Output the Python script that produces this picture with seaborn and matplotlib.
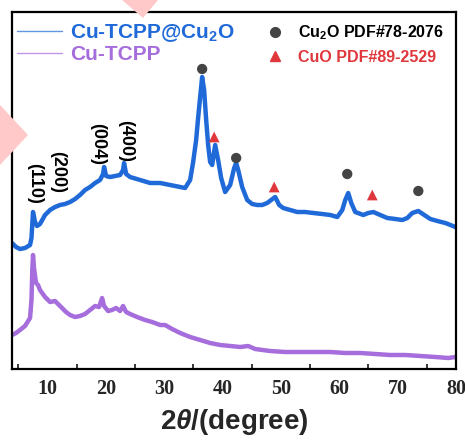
import numpy as np
import pandas as pd
import matplotlib
matplotlib.use("Agg")
import matplotlib.pyplot as plt
from matplotlib.lines import Line2D
from matplotlib.patches import Polygon
import seaborn as sns

# ---------------- data ----------------
two_theta_a = [3.90, 4.59, 5.27, 6.13, 6.99, 7.24, 7.50, 7.85, 8.19, 8.70, 9.56, 10.42, 11.28,
               12.13, 12.99, 13.85, 14.71, 15.56, 16.42, 17.28, 18.14, 18.99, 19.51, 19.68,
               20.03, 20.71, 21.57, 22.42, 22.94, 23.11, 23.46, 24.14, 25.86, 27.57, 29.29,
               31.00, 32.72, 33.57, 34.43, 34.95, 35.46, 35.80, 36.15, 36.49, 36.83, 37.18,
               37.52, 37.86, 38.21, 38.72, 39.23, 39.75, 40.43, 41.29, 41.98, 42.32, 42.67,
               43.35, 44.21, 45.07, 45.92, 46.78, 47.64, 48.32, 49.01, 49.70, 50.38, 51.58,
               52.79, 54.16, 55.53, 57.07, 58.45, 59.65, 60.51, 61.02, 61.53, 62.05, 62.73,
               64.11, 64.96, 65.82, 67.02, 68.22, 69.59, 70.80, 71.65, 72.51, 73.54, 74.57,
               75.60, 76.81, 78.18, 79.90]
intensity_a = [126, 122, 120, 121, 124, 131, 157, 147, 143, 145, 154, 159, 162,
               164, 165, 167, 170, 174, 179, 182, 186, 189, 195, 202,
               193, 192, 193, 194, 199, 206, 195, 192, 189, 186, 186,
               184, 182, 181, 189, 207, 229, 251, 272, 292, 279, 249,
               224, 207, 204, 224, 209, 191, 177, 184, 201, 206, 199,
               182, 169, 165, 164, 164, 166, 169, 172, 164, 161, 159,
               157, 157, 156, 155, 154, 152, 159, 169, 176, 166, 157,
               154, 156, 157, 154, 151, 150, 149, 151, 156, 158, 154,
               150, 148, 146, 142]

two_theta_b = [3.90, 4.59, 5.27, 6.13, 6.99, 7.24, 7.38, 7.50, 7.67, 8.02, 8.36, 8.70, 9.56,
               10.42, 11.28, 11.79, 12.48, 13.16, 13.85, 14.71, 15.56, 16.42, 17.28, 18.14,
               18.82, 19.34, 19.68, 20.37, 21.05, 21.74, 22.42, 22.94, 23.46, 24.14, 25.34,
               26.71, 27.91, 29.29, 30.14, 31.34, 32.72, 34.43, 36.15, 37.86, 39.58, 41.29,
               43.01, 44.38, 45.58, 48.15, 50.73, 53.30, 55.87, 58.45, 61.02, 63.59, 66.16,
               68.74, 71.31, 73.88, 76.46, 78.69, 79.90]
intensity_b = [34, 36, 39, 43, 51, 69, 99, 114, 101, 86, 84, 79, 72,
               67, 68, 65, 61, 57, 54, 52, 53, 55, 59, 63,
               62, 71, 63, 58, 59, 61, 58, 63, 57, 55, 52,
               49, 47, 44, 44, 40, 36, 32, 29, 26, 24, 23,
               22, 23, 20, 18, 17, 17, 17, 17, 16, 16, 15,
               14, 14, 13, 12, 11, 12]

cu2o_pos = [36.49, 42.32, 61.36, 73.54]
cu2o_y = [300, 211, 195, 178]
cuo_pos = [38.55, 48.84, 65.65]
cuo_y = [232, 182, 174]

hkl_labels = ["(110)", "(200)", "(004)", "(400)"]
hkl_x = [7.7, 11.8, 18.5, 23.4]
hkl_y = [186, 197, 225, 228]

series_names = ["Cu-TCPP@Cu$_2$O", "Cu-TCPP"]
phase_names = ["Cu$_2$O PDF#78-2076", "CuO PDF#89-2529"]
x_ticks = [10, 20, 30, 40, 50, 60, 70, 80]

# ---------------- style ----------------
BLUE = "#1f6ad8"
PURPLE = "#a66ddc"
GREY = "#444444"
RED = "#e0373c"

sns.set_style("white")
plt.rcParams["font.family"] = ["Liberation Sans", "DejaVu Sans"]
plt.rcParams["mathtext.fontset"] = "custom"
plt.rcParams["mathtext.rm"] = "Liberation Sans:bold"
plt.rcParams["mathtext.it"] = "Liberation Sans:bold:italic"
plt.rcParams["mathtext.bf"] = "Liberation Sans:bold"

fig = plt.figure(figsize=(4.65, 4.42), dpi=100)
# background watermark fragments
fig.patches.append(Polygon([[122/465, 1], [158/465, 1], [143/465, 1 - 18/442]],
                           closed=True, transform=fig.transFigure, facecolor="#ffc9c9",
                           edgecolor="none", zorder=0))
fig.patches.append(Polygon([[0, 1 - 105/442], [28/465, 1 - 135/442], [0, 1 - 165/442]],
                           closed=True, transform=fig.transFigure, facecolor="#ffc9c9",
                           edgecolor="none", zorder=0))
ax = fig.add_axes([12/465, 1 - 369/442, 444/465, 357/442])
ax.set_facecolor("none")

df_a = pd.DataFrame({"x": two_theta_a, "y": intensity_a})
df_b = pd.DataFrame({"x": two_theta_b, "y": intensity_b})
sns.lineplot(data=df_a, x="x", y="y", ax=ax, color=BLUE, lw=3.2, estimator=None, sort=False)
sns.lineplot(data=df_b, x="x", y="y", ax=ax, color=PURPLE, lw=3.2, estimator=None, sort=False)

sns.scatterplot(x=cu2o_pos, y=cu2o_y, ax=ax, color=GREY, s=55, marker="o", edgecolor="none", zorder=5)
sns.scatterplot(x=cuo_pos, y=cuo_y, ax=ax, color=RED, s=60, marker="^", edgecolor="none", zorder=5)

for lab, xx, yy in zip(hkl_labels, hkl_x, hkl_y):
    ax.text(xx, yy, lab, rotation=-90, ha="center", va="center", fontsize=13,
            fontweight="bold", color="black")

ax.set_xlim(3.9, 80)
ax.set_ylim(0, 357)
ax.set_yticks([])
ax.set_xticks(x_ticks)
ax.set_xticklabels([str(v) for v in x_ticks], fontfamily="Liberation Serif",
                   fontweight="bold", fontsize=14.5)
ax.set_xticks(np.arange(5, 80, 10), minor=True)
ax.tick_params(axis="x", which="major", direction="in", length=6, width=1.5, pad=7)
ax.tick_params(axis="x", which="minor", direction="in", length=3.5, width=1.3, bottom=True)
for sp in ax.spines.values():
    sp.set_linewidth(1.6)
    sp.set_color("black")

ax.set_xlabel(r"$\mathit{2\theta}$/(degree)", fontsize=20, fontweight="bold", labelpad=6)
ax.set_ylabel("")

# legends
h1 = [Line2D([0], [0], color=BLUE, lw=1.0, alpha=0.7), Line2D([0], [0], color=PURPLE, lw=1.0, alpha=0.7)]
leg1 = ax.legend(h1, series_names, loc="upper left", bbox_to_anchor=(5/444, 1 - 10/357), frameon=False,
                 prop={"weight": "bold", "size": 15}, handlelength=2.15, handletextpad=0.38,
                 labelspacing=0.05, borderaxespad=0.0, borderpad=0.0)
for t, c in zip(leg1.get_texts(), [BLUE, PURPLE]):
    t.set_color(c)
ax.add_artist(leg1)

h2 = [Line2D([0], [0], ls="none", marker="o", color=GREY, markersize=7),
      Line2D([0], [0], ls="none", marker="^", color=RED, markersize=7)]
leg2 = ax.legend(h2, phase_names, loc="upper left", bbox_to_anchor=(244/444, 1.0), frameon=False,
                 prop={"weight": "bold", "size": 11.5}, handlelength=1.0, handletextpad=0.9,
                 labelspacing=0.5, borderaxespad=0.3, borderpad=0.4)
for t, c in zip(leg2.get_texts(), ["black", RED]):
    t.set_color(c)

fig.savefig("out.png", dpi=100)
